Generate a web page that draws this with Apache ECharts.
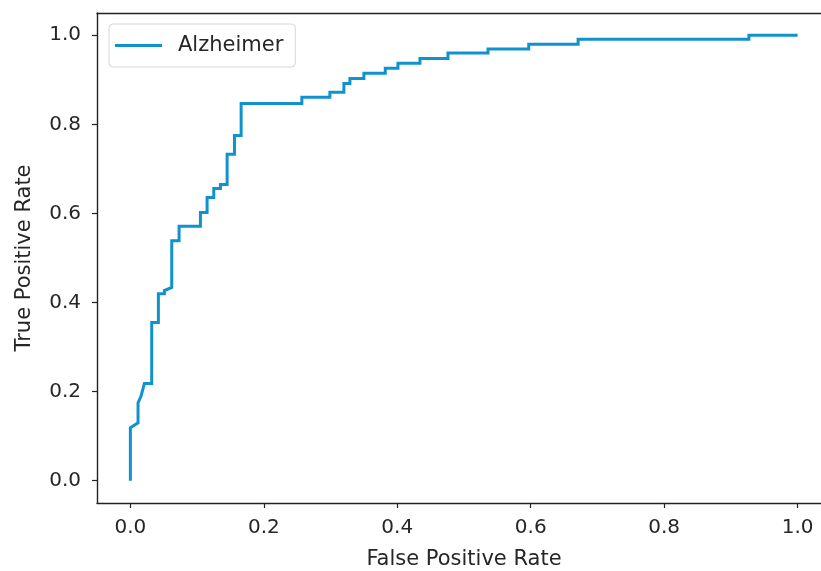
<!DOCTYPE html>
<html>
<head>
<meta charset="utf-8">
<script src="https://cdn.jsdelivr.net/npm/echarts@6/dist/echarts.min.js"></script>
<style>
html,body{margin:0;padding:0;background:#fff;}
#chart{width:821px;height:571px;}
</style>
</head>
<body>
<div id="chart"></div>
<script>
// ROC curve corner points (False Positive Rate, True Positive Rate)
const fpr = [0, 0, 0.0115, 0.0115, 0.016, 0.021, 0.032, 0.032, 0.042, 0.042,
  0.051, 0.051, 0.062, 0.062, 0.073, 0.073, 0.105, 0.105, 0.115, 0.115,
  0.125, 0.125, 0.135, 0.135, 0.145, 0.145, 0.156, 0.156, 0.166, 0.166,
  0.257, 0.257, 0.299, 0.299, 0.320, 0.320, 0.329, 0.329, 0.350, 0.350,
  0.382, 0.382, 0.401, 0.401, 0.434, 0.434, 0.476, 0.476, 0.536, 0.536,
  0.597, 0.597, 0.671, 0.671, 0.927, 0.927, 1.0];
const tpr = [0, 0.119, 0.13, 0.175, 0.19, 0.218, 0.218, 0.355, 0.355, 0.42,
  0.42, 0.427, 0.434, 0.539, 0.539, 0.571, 0.571, 0.602, 0.602, 0.636,
  0.636, 0.656, 0.656, 0.665, 0.665, 0.733, 0.733, 0.775, 0.775, 0.847,
  0.847, 0.861, 0.861, 0.872, 0.872, 0.892, 0.892, 0.903, 0.903, 0.915,
  0.915, 0.926, 0.926, 0.937, 0.937, 0.948, 0.948, 0.960, 0.960, 0.969,
  0.969, 0.980, 0.980, 0.991, 0.991, 1.0, 1.0];
const seriesName = 'Alzheimer';
const xTicks = [0, 0.2, 0.4, 0.6, 0.8, 1.0];
const yTicks = [0, 0.2, 0.4, 0.6, 0.8, 1.0];
const xTitle = 'False Positive Rate';
const yTitle = 'True Positive Rate';

const FONT = 'DejaVu Sans';
const TXT = '#262626';
const LINE_COLOR = '#1093cd';
const SPINE = {show: true, onZero: false, lineStyle: {color: '#222', width: 1.4}};
const chart = echarts.init(document.getElementById('chart'), null, {renderer: 'canvas'});
const points = fpr.map((v, i) => [v, tpr[i]]);

const tickStyle = {show: true, inside: false, length: 5, lineStyle: {color: '#222', width: 1.2}};
const axisCommon = {
  type: 'value',
  min: -0.05,
  max: 1.05,
  splitLine: {show: false},
  axisLine: SPINE,
  nameLocation: 'middle',
  nameTextStyle: {fontFamily: FONT, fontSize: 21, color: TXT}
};

chart.setOption({
  animation: false,
  backgroundColor: '#fff',
  grid: {
    left: 97, top: 13, width: 734, height: 490,
    show: false,
    containLabel: false, outerBoundsMode: 'none'
  },
  legend: {
    left: 109, top: 24,
    padding: [11, 12, 11, 6],
    backgroundColor: '#fff',
    borderColor: '#d6d6d6', borderWidth: 1, borderRadius: 4,
    icon: 'rect', itemWidth: 47, itemHeight: 3,
    textStyle: {fontFamily: FONT, fontSize: 21, color: TXT, padding: [0, 0, 0, 11]},
    data: [seriesName]
  },
  xAxis: [
    Object.assign({}, axisCommon, {
      position: 'bottom',
      name: xTitle, nameGap: 46,
      axisTick: Object.assign({}, tickStyle, {customValues: xTicks}),
      axisLabel: {customValues: xTicks, margin: 15, fontFamily: FONT, fontSize: 20, color: TXT,
        formatter: v => v.toFixed(1)}
    }),
    {
      type: 'value', position: 'top', min: -0.05, max: 1.05,
      axisLine: SPINE, axisTick: {show: false}, axisLabel: {show: false},
      splitLine: {show: false}
    }
  ],
  yAxis: Object.assign({}, axisCommon, {
    position: 'left',
    name: yTitle, nameGap: 62, nameRotate: 90,
    axisTick: Object.assign({}, tickStyle, {customValues: yTicks}),
    axisLabel: {customValues: yTicks, margin: 16, fontFamily: FONT, fontSize: 20, color: TXT,
      formatter: v => v.toFixed(1)}
  }),
  series: [{
    name: seriesName,
    type: 'line',
    xAxisIndex: 0,
    data: points,
    showSymbol: false,
    symbol: 'none',
    color: LINE_COLOR,
    lineStyle: {width: 3, color: LINE_COLOR, join: 'miter'},
    clip: true
  }]
});
</script>
</body>
</html>
